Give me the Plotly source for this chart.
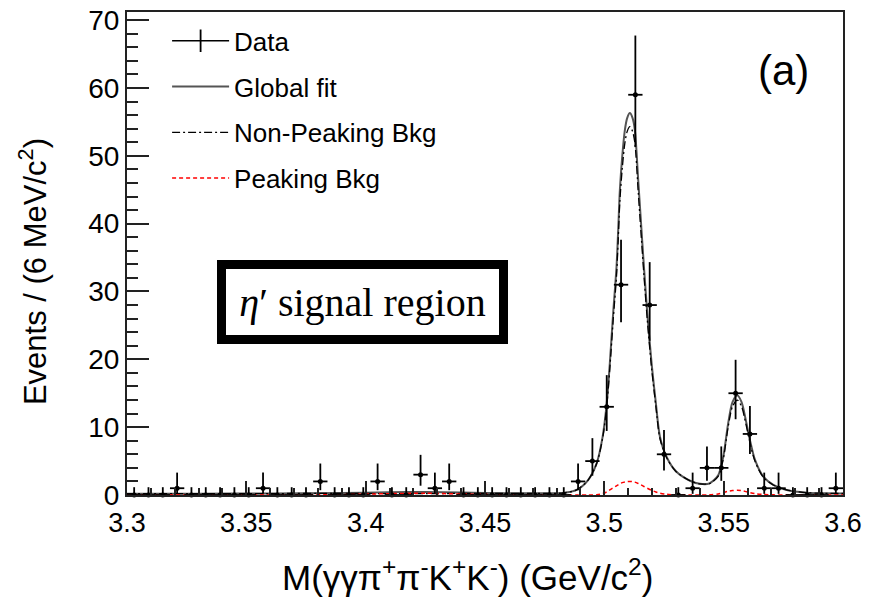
import plotly.graph_objects as go

# ---- data ----
bin_centers = [3.303, 3.309, 3.315, 3.321, 3.327, 3.333, 3.339, 3.345, 3.351, 3.357,
               3.363, 3.369, 3.375, 3.381, 3.387, 3.393, 3.399, 3.405, 3.411, 3.417,
               3.423, 3.429, 3.435, 3.441, 3.447, 3.453, 3.459, 3.465, 3.471, 3.477,
               3.483, 3.489, 3.495, 3.501, 3.507, 3.513, 3.519, 3.525, 3.531, 3.537,
               3.543, 3.549, 3.555, 3.561, 3.567, 3.573, 3.579, 3.585, 3.591, 3.597]
counts = [0, 0, 0, 1, 0, 0, 0, 0, 0, 1,
          0, 0, 0, 2, 0, 0, 0, 2, 0, 0,
          3, 1, 2, 0, 0, 0, 0, 0, 0, 0,
          0, 2, 5, 13, 31, 59, 28, 6, 0, 1,
          4, 4, 15, 9, 1, 1, 0, 0, 0, 1]
err_up = [1.15, 1.15, 1.15, 2.30, 1.15, 1.15, 1.15, 1.15, 1.15, 2.30,
          1.15, 1.15, 1.15, 2.64, 1.15, 1.15, 1.15, 2.64, 1.15, 1.15,
          2.92, 2.30, 2.64, 1.15, 1.15, 1.15, 1.15, 1.15, 1.15, 1.15,
          1.15, 2.64, 3.38, 4.67, 6.62, 8.73, 6.33, 3.58, 1.15, 2.30,
          3.16, 3.16, 4.93, 4.11, 2.30, 2.30, 1.15, 1.15, 1.15, 2.30]
err_dn = [0, 0, 0, 0.83, 0, 0, 0, 0, 0, 0.83,
          0, 0, 0, 1.29, 0, 0, 0, 1.29, 0, 0,
          1.63, 0.83, 1.29, 0, 0, 0, 0, 0, 0, 0,
          0, 1.29, 2.16, 3.56, 5.55, 7.68, 5.27, 2.38, 0, 0.83,
          1.91, 1.91, 3.83, 2.94, 0.83, 0.83, 0, 0, 0, 0.83]
bin_half_width = 0.003

curve_x = [3.300, 3.330, 3.360, 3.390, 3.410, 3.425, 3.440, 3.460, 3.475,
           3.4828, 3.4884, 3.4932, 3.4968, 3.4993,
           3.5010, 3.5023, 3.5037, 3.5051, 3.5058, 3.5065, 3.5075, 3.5086, 3.5096, 3.5107,
           3.5118, 3.5128, 3.5142, 3.5153, 3.5166, 3.5180, 3.5198, 3.5216, 3.5233, 3.5261,
           3.5300, 3.5359, 3.5400, 3.5440, 3.5477, 3.5498, 3.5519, 3.5537, 3.5557, 3.5575,
           3.5593, 3.5610, 3.5631, 3.5666, 3.5708, 3.5764, 3.5848, 3.5920, 3.6000]
global_fit = [0.20, 0.20, 0.22, 0.30, 0.40, 0.45, 0.38, 0.25, 0.25,
              0.30, 0.75, 2.2, 4.7, 8.6,
              13.5, 19.4, 26.8, 33.6, 39.0, 44.9, 49.9, 53.8, 55.6, 56.3,
              55.6, 53.8, 46.4, 40.5, 33.6, 26.8, 19.4, 13.5, 8.6, 5.6,
              3.5, 2.1, 1.65, 1.7, 2.9, 5.6, 10.6, 13.7, 14.7, 13.7,
              11.0, 8.1, 5.2, 2.7, 1.5, 0.75, 0.35, 0.25, 0.22]
non_peaking = [0.20, 0.20, 0.21, 0.25, 0.20, 0.20, 0.23, 0.23, 0.25,
               0.30, 0.75, 2.2, 4.65, 8.4,
               13.05, 18.65, 25.75, 32.25, 37.5, 43.25, 48.08, 51.87, 53.62, 54.3,
               53.63, 51.9, 44.7, 39.0, 32.35, 25.8, 18.7, 13.05, 8.33, 5.5,
               3.47, 2.1, 1.65, 1.67, 2.75, 5.25, 10.05, 13.05, 14.0, 13.05,
               10.5, 7.75, 5.0, 2.62, 1.48, 0.75, 0.35, 0.25, 0.22]
peaking = [0.0, 0.0, 0.01, 0.05, 0.2, 0.25, 0.15, 0.02, 0.0,
           0.0, 0.0, 0.0, 0.05, 0.2,
           0.45, 0.75, 1.05, 1.35, 1.5, 1.65, 1.82, 1.93, 1.98, 2.0,
           1.97, 1.9, 1.7, 1.5, 1.25, 1.0, 0.7, 0.45, 0.27, 0.1,
           0.03, 0.0, 0.0, 0.03, 0.15, 0.35, 0.55, 0.65, 0.7, 0.65,
           0.5, 0.35, 0.2, 0.08, 0.02, 0.0, 0.0, 0.0, 0.0]

x_tickvals = [3.3, 3.35, 3.4, 3.45, 3.5, 3.55, 3.6]
x_ticktext = ["3.3", "3.35", "3.4", "3.45", "3.5", "3.55", "3.6"]
y_tickvals = [0, 10, 20, 30, 40, 50, 60, 70]
y_ticktext = ["0", "10", "20", "30", "40", "50", "60", "70"]

SANS = "Liberation Sans, Arial, Helvetica, sans-serif"
SERIF = "Liberation Serif, Times New Roman, serif"

fig = go.Figure()

# legend entry for data (cross symbol)
fig.add_trace(go.Scatter(
    x=[None], y=[None], mode="lines+markers", name="Data", legendgroup="a",
    line=dict(color="black", width=1.5),
    marker=dict(symbol="line-ns-open", size=30, color="black",
                line=dict(color="black", width=1.8)),
))

fig.add_trace(go.Scatter(
    x=curve_x, y=global_fit, mode="lines", name="Global fit", legendgroup="b",
    line=dict(color="#555555", width=2, shape="spline", smoothing=0.8),
))
fig.add_trace(go.Scatter(
    x=curve_x, y=non_peaking, mode="lines", name="Non-Peaking Bkg", legendgroup="c",
    line=dict(color="black", width=1.3, dash="8px,3px,2px,3px", shape="spline", smoothing=0.8),
))
fig.add_trace(go.Scatter(
    x=curve_x, y=peaking, mode="lines", name="Peaking Bkg", legendgroup="d",
    line=dict(color="red", width=1.5, dash="4px,3px", shape="spline", smoothing=0.8),
))

fig.add_trace(go.Scatter(
    x=bin_centers, y=counts, mode="markers", name="Data", showlegend=False,
    marker=dict(size=5, color="black"),
    error_y=dict(type="data", symmetric=False, array=err_up, arrayminus=err_dn,
                 width=0, thickness=1.8, color="black"),
    error_x=dict(type="constant", value=bin_half_width, width=0, thickness=1.8, color="black"),
    cliponaxis=False,
))

fig.update_layout(
    width=870, height=599,
    margin=dict(l=127, r=27, t=12, b=104),
    paper_bgcolor="white", plot_bgcolor="white",
    font=dict(family=SANS, color="black"),
    showlegend=True,
    legend=dict(
        x=0.056, y=0.989, xanchor="left", yanchor="top",
        bgcolor="rgba(0,0,0,0)", borderwidth=0,
        font=dict(family=SANS, size=26, color="black"),
        itemwidth=57, tracegroupgap=9,
    ),
    xaxis=dict(
        range=[3.3, 3.6], tickmode="array", tickvals=x_tickvals, ticktext=x_ticktext,
        ticks="inside", ticklen=14, tickwidth=1.5, tickcolor="#222",
        minor=dict(dtick=0.01, ticks="inside", ticklen=7, tickwidth=1.5, tickcolor="#222", showgrid=False),
        showline=True, mirror=True, linecolor="#222", linewidth=2,
        showgrid=False, zeroline=False, automargin=False,
        tickfont=dict(family=SANS, size=27, color="black"),
        ticklabelstandoff=3,
    ),
    yaxis=dict(
        range=[0, 71.2], tickmode="array", tickvals=y_tickvals, ticktext=y_ticktext,
        ticks="inside", ticklen=22, tickwidth=1.5, tickcolor="#222",
        minor=dict(dtick=2, ticks="inside", ticklen=11, tickwidth=1.5, tickcolor="#222", showgrid=False),
        showline=True, mirror=True, linecolor="#222", linewidth=2,
        showgrid=False, zeroline=False, automargin=False,
        tickfont=dict(family=SANS, size=28, color="black"),
        ticklabelstandoff=0,
    ),
    annotations=[
        dict(text="M(γγπ<sup>+</sup>π<sup>-</sup>K<sup>+</sup>K<sup>-</sup>) (GeV/c<sup>2</sup>)",
             xref="paper", yref="paper", x=0.475, y=-0.1656, xanchor="center", yanchor="middle",
             showarrow=False, font=dict(family=SANS, size=35, color="black")),
        dict(text="Events / (6 MeV/c<sup>2</sup>)",
             xref="paper", yref="paper", x=-0.131, y=0.462, xanchor="center", yanchor="middle",
             textangle=-90, showarrow=False, font=dict(family=SANS, size=31, color="black")),
        dict(text="(a)", xref="x", yref="y", x=3.5752, y=62.6, xanchor="center", yanchor="middle",
             showarrow=False, font=dict(family=SANS, size=42, color="black")),
        dict(text="<i>η</i>′ signal region", xref="x", yref="y", x=3.3985, y=28.5,
             xanchor="center", yanchor="middle", showarrow=False,
             font=dict(family=SERIF, size=40, color="black"),
             bgcolor="white", bordercolor="black", borderwidth=9, borderpad=2,
             width=269, height=62),
    ],
)

fig.write_html("out.html")
